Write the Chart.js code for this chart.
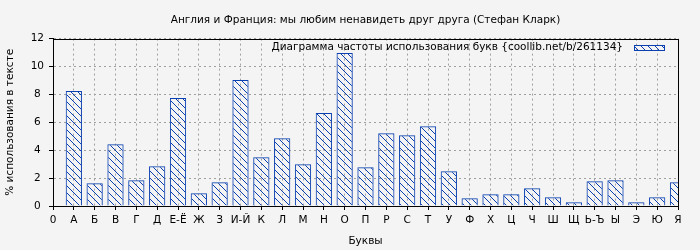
<!DOCTYPE html>
<html>
<head>
<meta charset="utf-8">
<script src="https://cdn.jsdelivr.net/npm/chart.js@4"></script>
<style>
  html, body { margin: 0; padding: 0; background: #f4f4f4; }
  #wrap { width: 700px; height: 250px; }
</style>
</head>
<body>
<div id="wrap"><canvas id="chart" width="700" height="250"></canvas></div>
<script>
// данные с картинки
const letters = ['0', 'А', 'Б', 'В', 'Г', 'Д', 'Е-Ё', 'Ж', 'З', 'И-Й', 'К', 'Л', 'М', 'Н', 'О', 'П', 'Р', 'С', 'Т', 'У', 'Ф', 'Х', 'Ц', 'Ч', 'Ш', 'Щ', 'Ь-Ъ', 'Ы', 'Э', 'Ю', 'Я'];
const percents = [0, 8.24, 1.63, 4.43, 1.84, 2.85, 7.74, 0.91, 1.70, 9.03, 3.50, 4.86, 2.99, 6.66, 10.97, 2.78, 5.22, 5.08, 5.72, 2.49, 0.55, 0.84, 0.84, 1.27, 0.62, 0.26, 1.77, 1.84, 0.26, 0.62, 1.70];
const yTicks = [0, 2, 4, 6, 8, 10, 12];

const blue = '#0a40b0';
const fontSize = 10.5;
const font11 = { family: 'DejaVu Sans', size: fontSize };

// штриховка "\\\"
function makeHatch() {
    const c = document.createElement('canvas');
    c.width = 7;
    c.height = 7;
    const g = c.getContext('2d');
    g.fillStyle = blue;
    for (let i = 0; i < 7; i++) g.fillRect(i, i, 1, 1);
    return g.createPattern(c, 'repeat');
}
const hatch = makeHatch();

const framePlugin = {
    id: 'frame',
    beforeDraw(chart) {
        const ctx = chart.ctx;
        ctx.save();
        ctx.fillStyle = '#f4f4f4';
        ctx.fillRect(0, 0, chart.width, chart.height);
        ctx.restore();
    },
    afterDatasetsDraw(chart) {
        const a = chart.chartArea;
        const ctx = chart.ctx;
        ctx.save();
        // рамка вокруг области графика
        ctx.strokeStyle = '#000';
        ctx.lineWidth = 1;
        ctx.strokeRect(Math.round(a.left) + 0.5, Math.round(a.top) + 0.5, Math.round(a.right - a.left), Math.round(a.bottom - a.top));

        // легенда внутри графика, справа сверху
        const ds = chart.data.datasets[0];
        const boxR = Math.round(a.right) - 13;
        const boxL = boxR - 31;
        const boxT = Math.round(a.top) + 6;
        ctx.fillStyle = ds.backgroundColor;
        ctx.fillRect(boxL, boxT, 31, 6);
        ctx.strokeStyle = ds.borderColor;
        ctx.strokeRect(boxL + 0.5, boxT + 0.5, 30, 5);
        ctx.fillStyle = '#000';
        ctx.font = fontSize + 'px "DejaVu Sans"';
        ctx.textAlign = 'right';
        ctx.textBaseline = 'middle';
        ctx.fillText(ds.label, boxL - 11, boxT + 2.5);
        ctx.restore();
    }
};

const ctx = document.getElementById('chart').getContext('2d');
new Chart(ctx, {
    type: 'bar',
    data: {
        labels: letters,
        datasets: [{
            label: 'Диаграмма частоты использования букв {coollib.net/b/261134}',
            data: percents,
            backgroundColor: hatch,
            borderColor: blue,
            borderWidth: 1,
            categoryPercentage: 1,
            barPercentage: 0.78
        }]
    },
    options: {
        responsive: false,
        animation: false,
        layout: { padding: { left: 0, right: 22, top: 14, bottom: 0 } },
        font: font11,
        plugins: {
            title: {
                display: true,
                text: 'Англия и Франция: мы любим ненавидеть друг друга (Стефан Кларк)',
                color: '#000',
                fullSize: false,
                font: { family: 'DejaVu Sans', size: fontSize, weight: 'normal' },
                padding: { top: 0, bottom: 12 }
            },
            legend: { display: false },
            tooltip: { enabled: false }
        },
        scales: {
            x: {
                offset: false,
                grid: {
                    offset: false,
                    color: '#a0a0a0',
                    tickLength: 4,
                    tickColor: '#000',
                    tickBorderDash: []
                },
                border: { display: true, color: '#000', dash: [2, 3] },
                ticks: {
                    color: '#000',
                    padding: 4,
                    autoSkip: false,
                    maxRotation: 0,
                    font: font11
                },
                title: {
                    display: true,
                    text: 'Буквы',
                    color: '#000',
                    padding: { top: 2, bottom: 2 },
                    font: font11
                },
                afterFit(scale) { scale.height = 44; }
            },
            y: {
                min: yTicks[0],
                max: yTicks[yTicks.length - 1],
                grid: {
                    color: '#a0a0a0',
                    tickLength: 4,
                    tickColor: '#000',
                    tickBorderDash: []
                },
                border: { display: true, color: '#000', dash: [2, 3] },
                afterBuildTicks(scale) {
                    scale.ticks = yTicks.map(v => ({ value: v }));
                },
                ticks: {
                    color: '#000',
                    padding: 5,
                    crossAlign: 'center',
                    font: font11
                },
                title: {
                    display: true,
                    text: '% использования в тексте',
                    color: '#000',
                    padding: { top: 4, bottom: 2 },
                    font: font11
                },
                afterFit(scale) { scale.width = 53; }
            }
        }
    },
    plugins: [framePlugin]
});
</script>
</body>
</html>
